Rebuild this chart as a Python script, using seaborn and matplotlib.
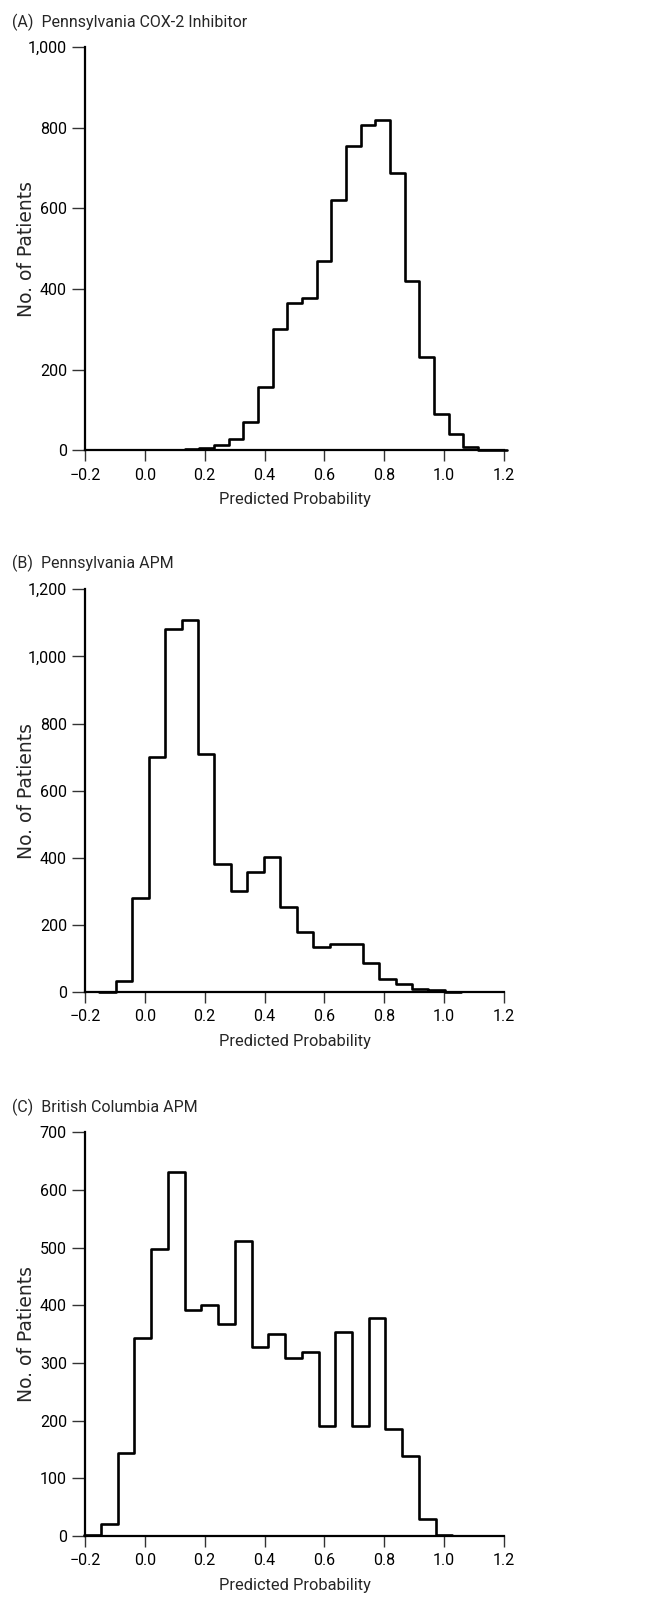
import numpy as np
import pandas as pd
import matplotlib
matplotlib.use('Agg')
import matplotlib.pyplot as plt
from matplotlib.ticker import FuncFormatter, MultipleLocator
import seaborn as sns

# ---- data (bin edges and patient counts) ----
edges_a = [0.133, 0.182, 0.231, 0.280, 0.329, 0.378, 0.427, 0.476, 0.525,
           0.574, 0.623, 0.672, 0.721, 0.770, 0.819, 0.868, 0.917, 0.966,
           1.015, 1.064, 1.113, 1.162, 1.211]
counts_a = [2, 6, 12, 28, 71, 157, 300, 366, 377, 469, 620, 755, 806, 820,
            688, 420, 231, 91, 40, 7, 1, 1]

edges_b = [-0.1525, -0.0975, -0.0425, 0.0125, 0.0675, 0.1225, 0.1775,
           0.2325, 0.2875, 0.3425, 0.3975, 0.4525, 0.5075, 0.5625, 0.6175,
           0.6725, 0.7275, 0.7825, 0.8375, 0.8925, 0.9475, 1.0025, 1.0575]
counts_b = [1, 33, 280, 701, 1081, 1108, 708, 381, 302, 357, 401, 253, 178,
            134, 142, 144, 85, 38, 25, 8, 5, 1]

edges_c = [-0.2024, -0.1465, -0.0906, -0.0347, 0.0212, 0.0771, 0.1330,
           0.1889, 0.2448, 0.3007, 0.3566, 0.4125, 0.4684, 0.5243, 0.5802,
           0.6361, 0.6920, 0.7479, 0.8038, 0.8597, 0.9156, 0.9715, 1.0274]
counts_c = [1, 21, 144, 343, 498, 631, 392, 400, 368, 511, 328, 351, 309,
            319, 190, 353, 190, 378, 185, 138, 30, 1]

titles = ['(A)  Pennsylvania COX-2 Inhibitor',
          '(B)  Pennsylvania APM',
          '(C)  British Columbia APM']
y_max = [1000, 1200, 700]
y_step = [200, 200, 100]
x_ticks = [-0.2, 0.0, 0.2, 0.4, 0.6, 0.8, 1.0, 1.2]

panels = [(edges_a, counts_a), (edges_b, counts_b), (edges_c, counts_c)]

# ---- layout (pixels of the 647x1602 figure) ----
W, H = 647, 1602
ax_left, ax_width = 85, 419
ax_bottoms = [450.3, 992.0, 1536.0]   # pixel row of y=0
ax_heights = [403.0, 402.7, 403.7]
title_base = [26.7, 568.0, 1112.0]

sns.set_style('ticks')
plt.rcParams['font.family'] = ['Roboto', 'DejaVu Sans']

fig = plt.figure(figsize=(W / 100, H / 100), dpi=100)

for i, (edges, counts) in enumerate(panels):
    rect = [ax_left / W, 1 - ax_bottoms[i] / H, ax_width / W, ax_heights[i] / H]
    ax = fig.add_axes(rect)
    centers = [(a + b) / 2 for a, b in zip(edges[:-1], edges[1:])]
    df = pd.DataFrame({'prob': centers, 'n': counts})
    sns.histplot(data=df, x='prob', weights='n', bins=list(edges),
                 element='step', fill=False, color='black', linewidth=1.9,
                 ax=ax)
    for ln in ax.lines:
        ln.set_clip_on(False)
    for art in ax.patches + ax.collections:
        art.set_clip_on(False)

    ax.set_xlim(-0.2, 1.2)
    ax.set_ylim(0, y_max[i])
    ax.set_xticks(x_ticks)
    ax.xaxis.set_major_formatter(FuncFormatter(
        lambda v, p: ('\u2212%.1f' % abs(v)) if v < -1e-9 else '%.1f' % abs(v)))
    ax.yaxis.set_major_locator(MultipleLocator(y_step[i]))
    ax.yaxis.set_major_formatter(FuncFormatter(lambda v, p: f'{int(v):,}'))

    sns.despine(ax=ax)
    for s in ('left', 'bottom'):
        ax.spines[s].set_linewidth(1.6)
        ax.spines[s].set_color('black')
    ax.tick_params(axis='y', direction='out', length=9.4, width=1.0,
                   color='#333333', labelsize=11.5, pad=3.6, labelcolor='black')
    ax.tick_params(axis='x', direction='out', length=8, width=1.0,
                   color='#333333', labelsize=11.5, pad=4.5, labelcolor='black')

    ax.set_xlabel('Predicted Probability', fontsize=11.8)
    ax.xaxis.set_label_coords(0.5, -0.104)
    ax.set_ylabel('No. of Patients', fontsize=13.5, family='DejaVu Sans')
    ax.yaxis.set_label_coords(-0.117, 0.5)

    fig.text(12 / W, 1 - title_base[i] / H, titles[i], fontsize=11.5,
             va='baseline', ha='left')

fig.savefig('out.png', dpi=100)
plt.close(fig)
